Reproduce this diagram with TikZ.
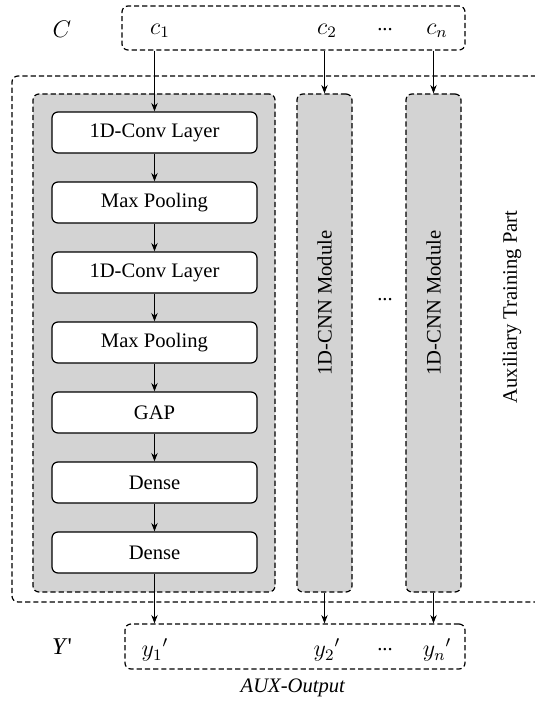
\documentclass[tikz,border=0pt]{standalone}
\usepackage{fontspec}
\setmainfont{Liberation Serif}
\usetikzlibrary{arrows.meta}
\definecolor{modgray}{RGB}{211,211,211}
\begin{document}
\begin{tikzpicture}[x=0.5pt,y=-0.5pt,
  font=\fontsize{10.3}{12}\selectfont,
  dbox/.style={draw, dash pattern=on 2.6pt off 1.5pt, line width=0.6pt, rounded corners=3pt},
  module/.style={dbox, fill=modgray, inner sep=0pt},
  layer/.style={draw, line width=0.6pt, fill=white, rounded corners=3pt, minimum width=102.5pt, minimum height=20.5pt, inner sep=0pt},
  arr/.style={-{Stealth[length=4.2pt,width=3.2pt]}, line width=0.5pt},
  lbl/.style={inner sep=0pt}]
\useasboundingbox (0,0) rectangle (535,701);
% outer auxiliary training region (open on the right)
\draw[dbox] (536,76) -- (12,76) -- (12,602) -- (536,602);
% input box
\node[dbox, minimum width=171.5pt, minimum height=22pt] (cbox) at (293.5,28) {};
\node[lbl] (Clbl) at (62,29) {\large$C$};
\node[lbl] (c1) at (160,31) {\large$c_1$};
\node[lbl] (c2) at (327,31) {\large$c_2$};
\node[lbl] (cdots) at (385,30) {...};
\node[lbl] (cn) at (437,31) {\large$c_n$};
% modules
\node[module, minimum width=121pt, minimum height=249pt] (mod1) at (154,343) {};
\node[module, minimum width=27.5pt, minimum height=249pt] (mod2) at (324.5,343) {};
\node[module, minimum width=27.5pt, minimum height=249pt] (mod3) at (433.5,343) {};
\node[lbl, rotate=90] (m2t) at (324.5,303) {1D-CNN Module};
\node[lbl, rotate=90] (m3t) at (433.5,303) {1D-CNN Module};
\node[lbl] (mdots) at (385,300) {...};
\node[lbl, rotate=90] (aux) at (512,307) {Auxiliary Training Part};
% layers
\node[layer] (l1) at (154.5,132.5) {1D-Conv Layer};
\node[layer] (l2) at (154.5,202.5) {Max Pooling};
\node[layer] (l3) at (154.5,272.5) {1D-Conv Layer};
\node[layer] (l4) at (154.5,342.5) {Max Pooling};
\node[layer] (l5) at (154.5,412.5) {GAP};
\node[layer] (l6) at (154.5,482.5) {Dense};
\node[layer] (l7) at (154.5,552.5) {Dense};
\foreach \a/\b in {l1/l2,l2/l3,l3/l4,l4/l5,l5/l6,l6/l7}
  \draw[arr] (\a.south) -- (\b.north);
% output box
\node[dbox, minimum width=170pt, minimum height=22.5pt] (ybox) at (295,646.5) {};
\node[lbl] (Ylbl) at (62,647) {\large\textit{Y}\textquotesingle};
\node[lbl] (y1) at (155,650) {\large${y_1}'$};
\node[lbl] (y2) at (327,650) {\large${y_2}'$};
\node[lbl] (ydots) at (385,650) {...};
\node[lbl] (yn) at (437,650) {\large${y_n}'$};
\node[lbl] (auxout) at (293,688) {\textit{AUX-Output}};
% connectors
\draw[arr] (cbox.south -| l1.north) -- (l1.north);
\draw[arr] (cbox.south -| mod2.north) -- (mod2.north);
\draw[arr] (cbox.south -| mod3.north) -- (mod3.north);
\draw[arr] (l7.south) -- (l7.south |- ybox.north);
\draw[arr] (mod2.south) -- (mod2.south |- ybox.north);
\draw[arr] (mod3.south) -- (mod3.south |- ybox.north);
\end{tikzpicture}
\end{document}
